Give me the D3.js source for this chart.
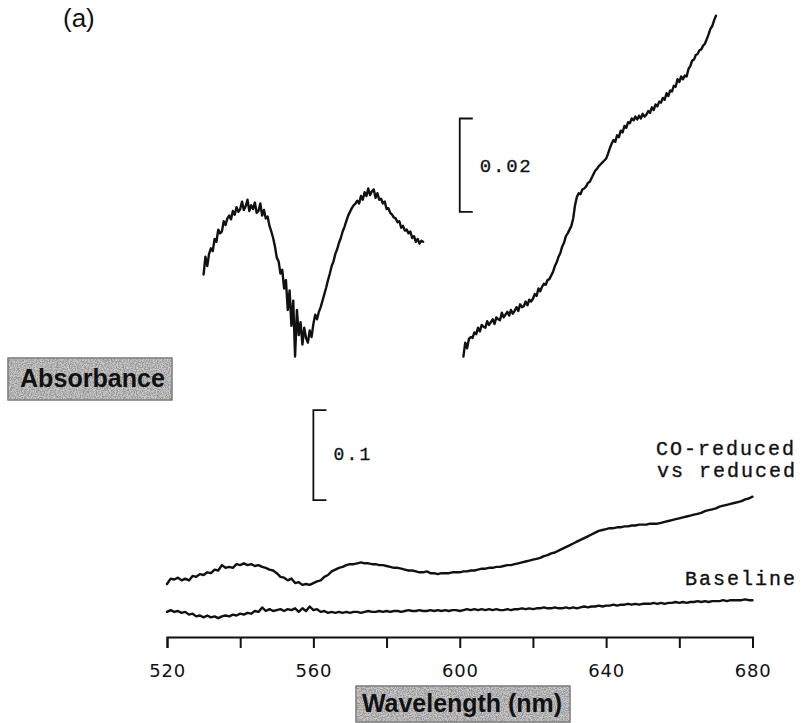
<!DOCTYPE html>
<html>
<head>
<meta charset="utf-8">
<script src="https://cdn.jsdelivr.net/npm/d3@7"></script>
<style>
  html, body { margin: 0; padding: 0; background: #fff; }
  svg { display: block; }
</style>
</head>
<body>
<svg id="chart" width="805" height="723"></svg>
<script>
// ---- Spectra (absorbance) ----
// Expanded difference spectrum, 530–590 nm, sampled every 0.5 nm
const upperLeftStart = 530, upperLeftStep = 0.5;
const upperLeftAbs = [
  0.0226,0.0264,0.0244,0.0270,0.0282,0.0276,0.0302,0.0296,0.0322,0.0314,
  0.0318,0.0340,0.0332,0.0346,0.0352,0.0344,0.0362,0.0354,0.0370,0.0360,
  0.0366,0.0382,0.0364,0.0372,0.0386,0.0362,0.0374,0.0366,0.0380,0.0358,
  0.0362,0.0378,0.0352,0.0364,0.0346,0.0350,0.0330,0.0318,0.0304,0.0286,
  0.0262,0.0254,0.0228,0.0236,0.0196,0.0214,0.0150,0.0192,0.0116,0.0170,
  0.0050,0.0150,0.0096,0.0124,0.0076,0.0112,0.0090,0.0080,0.0106,0.0092,
  0.0120,0.0140,0.0130,0.0146,0.0156,0.0170,0.0184,0.0198,0.0214,0.0228,
  0.0244,0.0254,0.0270,0.0280,0.0294,0.0304,0.0318,0.0328,0.0340,0.0352,
  0.0360,0.0368,0.0374,0.0378,0.0384,0.0378,0.0394,0.0386,0.0402,0.0394,
  0.0410,0.0396,0.0404,0.0408,0.0390,0.0400,0.0386,0.0388,0.0378,0.0382,
  0.0366,0.0368,0.0358,0.0354,0.0348,0.0346,0.0338,0.0340,0.0326,0.0330,
  0.0320,0.0322,0.0314,0.0318,0.0304,0.0308,0.0296,0.0302,0.0292,0.0298,
  0.0296
];

// Expanded difference spectrum, 601–670 nm, sampled every 0.5 nm
const upperRightStart = 601, upperRightStep = 0.5;
const upperRightAbs = [
  0.0050,0.0080,0.0068,0.0088,0.0092,0.0090,0.0102,0.0098,0.0112,0.0104,
  0.0118,0.0114,0.0112,0.0126,0.0118,0.0124,0.0130,0.0120,0.0134,0.0130,
  0.0128,0.0144,0.0134,0.0140,0.0146,0.0138,0.0150,0.0142,0.0148,0.0156,
  0.0148,0.0162,0.0156,0.0158,0.0168,0.0160,0.0172,0.0168,0.0174,0.0184,
  0.0180,0.0196,0.0190,0.0200,0.0206,0.0204,0.0214,0.0216,0.0224,0.0232,
  0.0244,0.0252,0.0264,0.0272,0.0286,0.0294,0.0308,0.0314,0.0322,0.0330,
  0.0346,0.0374,0.0392,0.0400,0.0398,0.0408,0.0410,0.0414,0.0422,0.0424,
  0.0432,0.0440,0.0448,0.0452,0.0458,0.0462,0.0466,0.0470,0.0474,0.0484,
  0.0496,0.0506,0.0514,0.0510,0.0524,0.0520,0.0534,0.0530,0.0544,0.0540,
  0.0552,0.0550,0.0560,0.0556,0.0564,0.0558,0.0566,0.0560,0.0570,0.0564,
  0.0568,0.0576,0.0572,0.0584,0.0578,0.0590,0.0586,0.0596,0.0594,0.0604,
  0.0600,0.0614,0.0608,0.0620,0.0618,0.0630,0.0628,0.0644,0.0638,0.0650,
  0.0644,0.0652,0.0650,0.0666,0.0672,0.0684,0.0686,0.0696,0.0698,0.0706,
  0.0708,0.0716,0.0720,0.0730,0.0740,0.0752,0.0758,0.0770,0.0780
];

// CO-reduced vs reduced, 520–680 nm, every 1 nm
const coStart = 520, coStep = 1;
const coReducedAbs = [
  0.040,0.046,0.045,0.047,0.044,0.046,0.044,0.049,0.048,0.051,
  0.050,0.053,0.052,0.056,0.055,0.061,0.058,0.059,0.058,0.062,
  0.061,0.063,0.061,0.062,0.060,0.061,0.059,0.058,0.056,0.055,
  0.052,0.048,0.047,0.044,0.046,0.041,0.042,0.039,0.040,0.039,
  0.041,0.043,0.044,0.048,0.050,0.054,0.056,0.058,0.059,0.061,
  0.062,0.062,0.063,0.064,0.063,0.063,0.062,0.062,0.061,0.061,
  0.060,0.059,0.058,0.058,0.057,0.056,0.055,0.055,0.054,0.053,
  0.053,0.054,0.052,0.052,0.051,0.052,0.052,0.052,0.053,0.053,
  0.053,0.054,0.054,0.055,0.055,0.056,0.057,0.057,0.058,0.058,
  0.059,0.059,0.060,0.061,0.061,0.062,0.063,0.064,0.065,0.066,
  0.067,0.068,0.069,0.071,0.072,0.074,0.075,0.077,0.079,0.081,
  0.083,0.085,0.087,0.089,0.091,0.093,0.095,0.097,0.099,0.100,
  0.101,0.102,0.102,0.103,0.103,0.104,0.104,0.105,0.105,0.106,
  0.106,0.106,0.107,0.107,0.107,0.108,0.109,0.110,0.111,0.112,
  0.113,0.114,0.115,0.116,0.117,0.118,0.119,0.121,0.122,0.123,
  0.124,0.126,0.127,0.128,0.129,0.130,0.131,0.132,0.134,0.135,
  0.137
];

// Baseline, 520–680 nm, every 1 nm
const baseStart = 520, baseStep = 1;
const baselineAbs = [
  0.009,0.011,0.009,0.010,0.008,0.009,0.006,0.007,0.004,0.005,
  0.003,0.005,0.003,0.004,0.002,0.004,0.005,0.004,0.006,0.005,
  0.007,0.006,0.008,0.007,0.010,0.009,0.014,0.010,0.012,0.010,
  0.011,0.012,0.010,0.012,0.011,0.013,0.009,0.013,0.010,0.015,
  0.011,0.012,0.009,0.010,0.008,0.009,0.008,0.009,0.008,0.009,
  0.008,0.009,0.009,0.008,0.009,0.010,0.009,0.009,0.010,0.009,
  0.010,0.009,0.010,0.010,0.009,0.010,0.011,0.010,0.010,0.011,
  0.010,0.010,0.011,0.010,0.011,0.010,0.011,0.010,0.011,0.011,
  0.010,0.011,0.012,0.011,0.012,0.011,0.012,0.011,0.012,0.011,
  0.012,0.011,0.011,0.012,0.011,0.012,0.012,0.013,0.012,0.013,
  0.012,0.013,0.013,0.014,0.013,0.013,0.014,0.013,0.013,0.014,
  0.013,0.014,0.013,0.014,0.015,0.014,0.015,0.015,0.016,0.015,
  0.016,0.016,0.017,0.016,0.017,0.017,0.018,0.017,0.018,0.017,
  0.018,0.018,0.018,0.019,0.018,0.019,0.018,0.019,0.019,0.020,
  0.019,0.020,0.019,0.020,0.020,0.021,0.020,0.021,0.020,0.021,
  0.021,0.021,0.022,0.021,0.022,0.022,0.022,0.022,0.023,0.022,
  0.022
];

// Axis ticks (nm)
const tickValues = [520, 540, 560, 580, 600, 620, 640, 660, 680];
const tickLabels = [520, 560, 600, 640, 680];

// Scale bars: [panel, wavelength, lower absorbance, size, label]
const scaleBars = [
  ["lower", 560, 0.1333, 0.1, "0.1"],
  ["upper", 600, 0.0360, 0.02, "0.02"]
];

// ---- Layout ----
const svg = d3.select("#chart");
const x = d3.scaleLinear().domain([520, 680]).range([167, 752.5]);
// expanded spectra: 0.02 A spans ~93 px
const yUp = d3.scaleLinear().domain([0, 0.08]).range([380, 380 - 0.08 * 4670]);
// full-scale spectra: 0.1 A spans 90 px
const yLow = d3.scaleLinear().domain([0, 0.24]).range([620, 620 - 0.24 * 900]);

const toPts = (start, step, vals) => vals.map((v, i) => [start + i * step, v]);

// grain filter for the label boxes
const defs = svg.append("defs");
const f = defs.append("filter").attr("id", "grain").attr("x", 0).attr("y", 0).attr("width", 1).attr("height", 1);
f.append("feTurbulence").attr("type", "fractalNoise").attr("baseFrequency", 0.85).attr("numOctaves", 2).attr("seed", 7).attr("result", "n");
f.append("feColorMatrix").attr("in", "n").attr("type", "matrix")
  .attr("values", "0 0 0 0 0.3  0 0 0 0 0.3  0 0 0 0 0.3  0 0 0 -3.2 2.05").attr("result", "s");
f.append("feComposite").attr("in", "s").attr("in2", "SourceGraphic").attr("operator", "in");

function grainBox(x0, y0, w, h) {
  svg.append("rect").attr("x", x0).attr("y", y0).attr("width", w).attr("height", h)
    .attr("fill", "#cacaca").attr("stroke", "#555").attr("stroke-width", 1.2);
  svg.append("rect").attr("x", x0).attr("y", y0).attr("width", w).attr("height", h)
    .attr("fill", "#000").attr("filter", "url(#grain)");
}

// ---- Traces ----
const lineUp = d3.line().x(d => x(d[0])).y(d => yUp(d[1]));
const lineLow = d3.line().x(d => x(d[0])).y(d => yLow(d[1]));
const traceStyle = sel => sel.attr("fill", "none").attr("stroke", "#111")
  .attr("stroke-width", 2.4).attr("stroke-linejoin", "round").attr("stroke-linecap", "round");

svg.append("path").datum(toPts(upperLeftStart, upperLeftStep, upperLeftAbs)).attr("d", lineUp).call(traceStyle);
svg.append("path").datum(toPts(upperRightStart, upperRightStep, upperRightAbs)).attr("d", lineUp).call(traceStyle);
svg.append("path").datum(toPts(coStart, coStep, coReducedAbs)).attr("d", lineLow).call(traceStyle);
svg.append("path").datum(toPts(baseStart, baseStep, baselineAbs)).attr("d", lineLow).call(traceStyle);

// ---- Scale bars ----
const mono = "'Liberation Mono', 'DejaVu Sans Mono', monospace";
scaleBars.forEach(([panel, wl, a0, size, label]) => {
  const y = panel === "upper" ? yUp : yLow;
  const bx = x(wl), yb = y(a0), yt = y(a0 + size);
  svg.append("path")
    .attr("d", `M${bx + 13},${yt}H${bx}V${yb}H${bx + 13}`)
    .attr("fill", "none").attr("stroke", "#111").attr("stroke-width", 1.8);
  svg.append("text").attr("x", bx + 20).attr("y", (yt + yb) / 2 + (panel === "upper" ? 7 : 5))
    .attr("font-family", mono).attr("font-size", panel === "upper" ? 19 : 18)
    .attr("letter-spacing", panel === "upper" ? 1.8 : 2.2)
    .attr("fill", "#111").attr("stroke", "#111").attr("stroke-width", 0.3)
    .text(label);
});

// ---- X axis ----
const axis = d3.axisBottom(x).tickValues(tickValues).tickSize(11).tickSizeOuter(11).tickPadding(16)
  .tickFormat(d => tickLabels.includes(d) ? d : "");
const gAxis = svg.append("g").attr("transform", "translate(0,637)").call(axis);
gAxis.select(".domain").attr("stroke", "#111").attr("stroke-width", 2);
gAxis.selectAll(".tick line").attr("stroke", "#111").attr("stroke-width", 2);
gAxis.selectAll(".tick text").attr("font-family", "'DejaVu Sans', sans-serif").attr("font-size", 18)
  .attr("letter-spacing", 0.8).attr("fill", "#111");

// ---- Labels ----
grainBox(356, 686, 214, 36);
svg.append("text").attr("x", 362).attr("y", 711.5)
  .attr("font-family", "'Liberation Sans', Arial, sans-serif").attr("font-weight", "bold")
  .attr("font-size", 25).attr("textLength", 200).attr("lengthAdjust", "spacingAndGlyphs")
  .attr("fill", "#111").text("Wavelength (nm)");

grainBox(8, 358, 164, 42);
svg.append("text").attr("x", 20).attr("y", 387)
  .attr("font-family", "'Liberation Sans', Arial, sans-serif").attr("font-weight", "bold")
  .attr("font-size", 26).attr("textLength", 145).attr("lengthAdjust", "spacingAndGlyphs")
  .attr("fill", "#111").text("Absorbance");

const tw = sel => sel.attr("font-family", mono).attr("font-size", 20).attr("letter-spacing", 2)
  .attr("fill", "#111").attr("stroke", "#111").attr("stroke-width", 0.35);
svg.append("text").attr("x", 656).attr("y", 455).call(tw).text("CO-reduced");
svg.append("text").attr("x", 657).attr("y", 477).call(tw).text("vs reduced");
svg.append("text").attr("x", 685).attr("y", 585).call(tw).text("Baseline");

// panel letter
svg.append("text").attr("x", 63).attr("y", 27)
  .attr("font-family", "'Liberation Sans', Arial, sans-serif").attr("font-size", 26)
  .attr("fill", "#111").text("(a)");
</script>
</body>
</html>
